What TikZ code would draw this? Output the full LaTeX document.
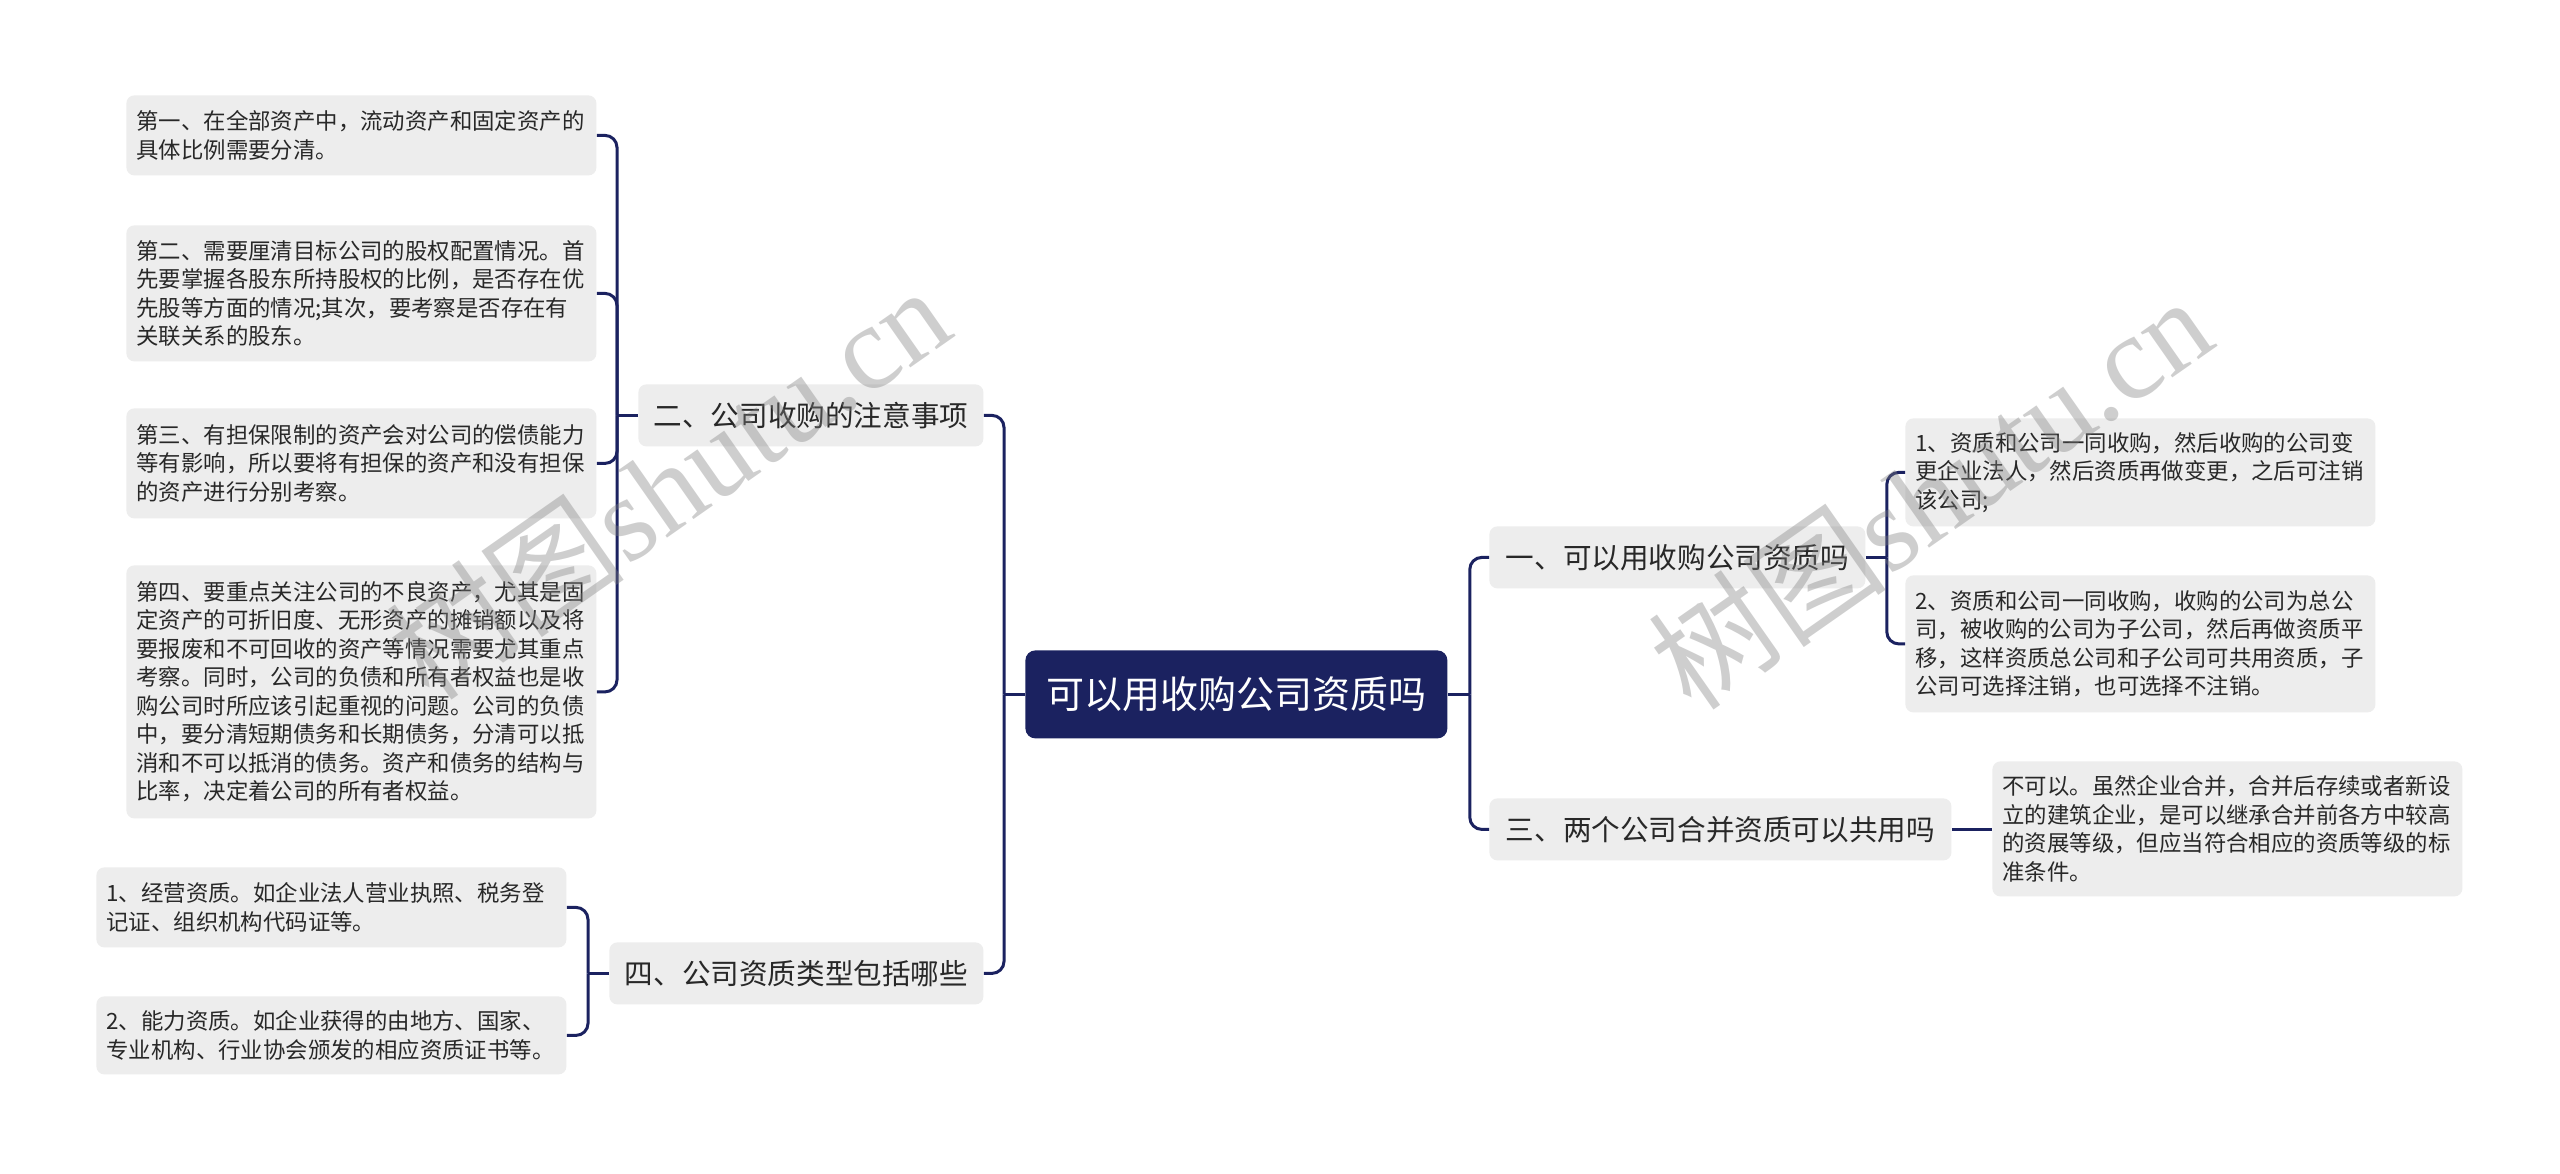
\documentclass[tikz,border=0pt]{standalone}
\usepackage{fontspec}
\setmainfont{Noto Sans CJK SC}
\newfontfamily\wmserif{Liberation Serif}
\definecolor{navy}{RGB}{27,34,96}
\definecolor{boxgray}{RGB}{237,237,237}
\definecolor{txt}{RGB}{40,40,40}
\begin{document}
\begin{tikzpicture}[x=0.5pt,y=-0.5pt,
  leaf/.style={fill=boxgray, rounded corners=4pt, text=txt,
    font=\fontsize{11.2pt}{14.25pt}\selectfont, align=left,
    text width=225pt, inner xsep=5pt, inner ysep=0pt,
    minimum width=235pt, anchor=north west},
  lvl/.style={fill=boxgray, rounded corners=4pt, text=txt,
    font=\fontsize{14.3pt}{17pt}\selectfont, inner sep=0pt,
    minimum height=31pt, anchor=north west},
  rootbox/.style={fill=navy, rounded corners=5pt, text=white,
    font=\fontsize{19pt}{22pt}\selectfont, inner sep=0pt,
    minimum width=211pt, minimum height=44pt, anchor=north west},
  conn/.style={draw=navy, line width=1.5pt},
  brconn/.style={conn, rounded corners=6pt},
  wm/.style={text=black!50, opacity=0.38, font=\fontsize{60pt}{62pt}\selectfont, rotate=35, inner sep=0pt}
]
\fill[white] (0,0) rectangle (2560,1173);
\useasboundingbox (0,0) rectangle (2560,1173);

% root
\node[rootbox] (root) at (1025,650) {可以用收购公司资质吗};

% level 1
\node[lvl, minimum width=172.5pt] (n2) at (638,384) {二、公司收购的注意事项};
\node[lvl, minimum width=187pt] (n4) at (609,942) {四、公司资质类型包括哪些};
\node[lvl, minimum width=188pt] (n1) at (1489,526) {一、可以用收购公司资质吗};
\node[lvl, minimum width=231pt] (n3) at (1489,798) {三、两个公司合并资质可以共用吗};

% leaves of 二
\node[leaf, minimum height=40pt] (a1) at (126,95) {第一、在全部资产中，流动资产和固定资产的\\具体比例需要分清。};
\node[leaf, minimum height=68pt] (a2) at (126,225) {第二、需要厘清目标公司的股权配置情况。首\\先要掌握各股东所持股权的比例，是否存在优\\先股等方面的情况;其次，要考察是否存在有\\关联关系的股东。};
\node[leaf, minimum height=55pt] (a3) at (126,408) {第三、有担保限制的资产会对公司的偿债能力\\等有影响，所以要将有担保的资产和没有担保\\的资产进行分别考察。};
\node[leaf, minimum height=126.5pt] (a4) at (126,565) {第四、要重点关注公司的不良资产，尤其是固\\定资产的可折旧度、无形资产的摊销额以及将\\要报废和不可回收的资产等情况需要尤其重点\\考察。同时，公司的负债和所有者权益也是收\\购公司时所应该引起重视的问题。公司的负债\\中，要分清短期债务和长期债务，分清可以抵\\消和不可以抵消的债务。资产和债务的结构与\\比率，决定着公司的所有者权益。};

% leaves of 四
\node[leaf, minimum height=40pt] (b1) at (96,867) {1、经营资质。如企业法人营业执照、税务登\\记证、组织机构代码证等。};
\node[leaf, minimum height=39pt] (b2) at (96,996) {2、能力资质。如企业获得的由地方、国家、\\专业机构、行业协会颁发的相应资质证书等。};

% leaves of 一
\node[leaf, minimum height=54pt] (c1) at (1905,418) {1、资质和公司一同收购，然后收购的公司变\\更企业法人，然后资质再做变更，之后可注销\\该公司;};
\node[leaf, minimum height=68.5pt] (c2) at (1905,575) {2、资质和公司一同收购，收购的公司为总公\\司，被收购的公司为子公司，然后再做资质平\\移，这样资质总公司和子公司可共用资质，子\\公司可选择注销，也可选择不注销。};

% leaf of 三
\node[leaf, minimum height=67.5pt] (d1) at (1992,761) {不可以。虽然企业合并，合并后存续或者新设\\立的建筑企业，是可以继承合并前各方中较高\\的资展等级，但应当符合相应的资质等级的标\\准条件。};

% connectors: root to level 1
\draw[conn] (root.west) -- ++(-21,0) coordinate (tL);
\draw[brconn] (tL) |- (n2.east);
\draw[brconn] (tL) |- (n4.east);
\draw[conn] (root.east) -- ++(22,0) coordinate (tR);
\draw[brconn] (tR) |- (n1.west);
\draw[brconn] (tR) |- (n3.west);

% 二 to leaves
\draw[conn] (n2.west) -- ++(-21,0) coordinate (t2);
\foreach \c in {a1,a2,a3,a4} { \draw[brconn] (t2) |- (\c.east); }
% 四 to leaves
\draw[conn] (n4.west) -- ++(-21,0) coordinate (t4);
\foreach \c in {b1,b2} { \draw[brconn] (t4) |- (\c.east); }
% 一 to leaves
\draw[conn] (n1.east) -- ++(21,0) coordinate (t1);
\foreach \c in {c1,c2} { \draw[brconn] (t1) |- (\c.west); }
% 三 to leaf
\draw[conn] (n3.east) -- (n3.east -| d1.west);

% watermarks
\node[wm] (wmL) at (668,482) {树图{\wmserif shutu.cn}};
\node[wm] (wmR) at (1930,492) {树图{\wmserif shutu.cn}};
\end{tikzpicture}
\end{document}
